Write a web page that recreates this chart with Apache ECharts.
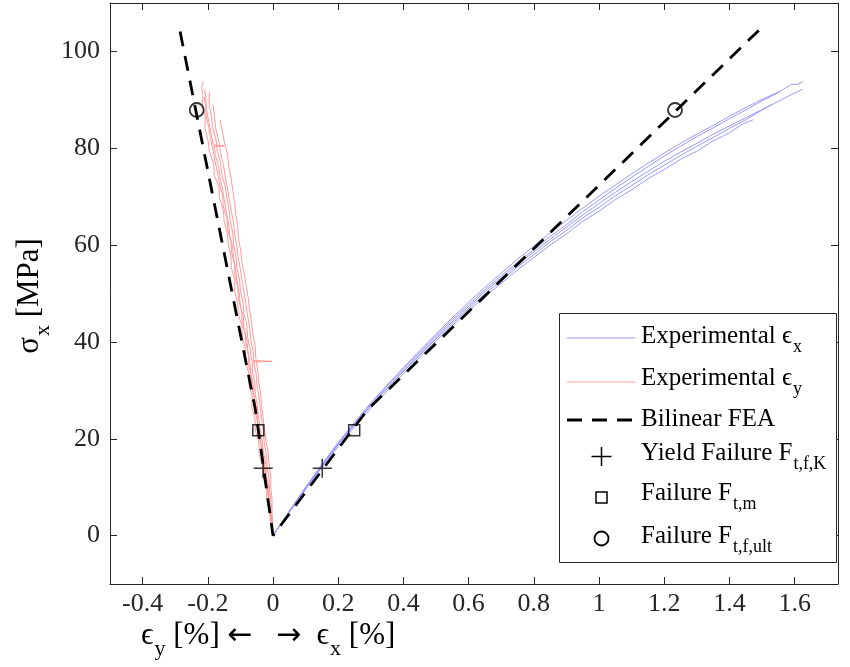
<!DOCTYPE html>
<html>
<head>
<meta charset="utf-8">
<script src="https://cdn.jsdelivr.net/npm/echarts@6/dist/echarts.min.js"></script>
<style>
  html, body { margin: 0; padding: 0; background: #ffffff; }
  #chart { width: 850px; height: 667px; }
</style>
</head>
<body>
<div id="chart"></div>
<script>
// Axis ticks
const strainTicks = [-0.4, -0.2, 0, 0.2, 0.4, 0.6, 0.8, 1, 1.2, 1.4, 1.6];
const stressTicks = [0, 20, 40, 60, 80, 100];

// Experimental axial strain curves, [strain %, stress MPa]
const expX1 = [[0,0],[0.05,5.0],[0.10,9.9],[0.15,14.6],[0.20,19.1],[0.25,23.3],[0.30,27.2],[0.35,30.9],[0.40,34.4],[0.45,37.9],[0.50,41.3],[0.55,44.6],[0.60,47.7],[0.65,50.8],[0.70,53.6],[0.75,56.5],[0.80,59.0],[0.85,61.8],[0.90,64.2],[0.95,66.9],[1.00,69.3],[1.05,71.7],[1.10,74.0],[1.15,76.2],[1.20,78.4],[1.25,80.4],[1.30,82.4],[1.35,84.2],[1.40,86.1],[1.45,87.9],[1.50,89.8],[1.55,91.5],[1.59,93.2],[1.61,93.2],[1.625,93.8]];
const expX2 = [[0,0],[0.05,4.9],[0.10,9.7],[0.15,14.4],[0.20,18.8],[0.25,22.9],[0.30,26.8],[0.35,30.5],[0.40,34.0],[0.45,37.5],[0.50,40.9],[0.55,44.2],[0.60,47.3],[0.65,50.4],[0.70,53.2],[0.75,56.0],[0.80,58.6],[0.85,61.2],[0.90,63.7],[0.95,66.2],[1.00,68.6],[1.05,70.9],[1.10,73.1],[1.15,75.2],[1.20,77.3],[1.25,79.2],[1.30,81.0],[1.35,82.9],[1.40,84.6],[1.45,86.3],[1.50,88.0],[1.55,89.7],[1.60,91.4],[1.625,92.2]];
const expX3 = [[0,0],[0.05,5.1],[0.10,10.0],[0.15,14.7],[0.20,19.2],[0.25,23.4],[0.30,27.4],[0.35,31.1],[0.40,34.7],[0.45,38.2],[0.50,41.6],[0.55,45.0],[0.60,48.2],[0.65,51.3],[0.70,54.2],[0.75,57.1],[0.80,59.8],[0.85,62.5],[0.90,65.1],[0.95,67.6],[1.00,70.1],[1.05,72.4],[1.10,74.7],[1.15,76.9],[1.20,79.0],[1.25,81.0],[1.30,82.9],[1.35,84.7],[1.40,86.6],[1.45,88.4],[1.50,90.1],[1.53,91.0],[1.555,91.7]];
const expX4 = [[0,0],[0.05,4.8],[0.10,9.5],[0.15,14.1],[0.20,18.4],[0.25,22.5],[0.30,26.3],[0.35,29.9],[0.40,33.4],[0.45,36.9],[0.50,40.2],[0.55,43.4],[0.60,46.4],[0.65,49.4],[0.70,52.1],[0.75,54.9],[0.80,57.4],[0.85,60.0],[0.90,62.3],[0.95,64.9],[1.00,67.0],[1.05,69.4],[1.10,71.4],[1.15,73.7],[1.20,75.6],[1.25,77.7],[1.30,79.4],[1.35,81.5],[1.40,83.2],[1.44,85.0],[1.473,85.9]];
const expX5 = [[0,0],[0.05,5.0],[0.10,9.8],[0.15,14.4],[0.20,18.9],[0.25,23.0],[0.30,26.9],[0.35,30.4],[0.40,33.9],[0.45,37.3],[0.50,40.6],[0.55,43.8],[0.60,46.9],[0.65,49.9],[0.70,52.7],[0.75,55.5],[0.80,58.0],[0.85,60.7],[0.90,63.0],[0.95,65.6],[1.00,67.8],[1.05,70.2],[1.10,72.3],[1.15,74.5],[1.20,76.5],[1.25,78.5],[1.30,80.4],[1.35,82.2],[1.40,84.1],[1.45,85.9],[1.50,87.9],[1.53,89.0]];

// Experimental transverse strain curves (plotted as negative strain)
const expY1 = [[0,0],[-0.007,2.4],[-0.010,4.9],[-0.019,7.3],[-0.020,9.6],[-0.031,12.1],[-0.033,14.5],[-0.042,16.8],[-0.044,19.3],[-0.054,21.7],[-0.055,24.0],[-0.065,26.5],[-0.064,28.9],[-0.074,31.2],[-0.075,33.7],[-0.084,36.1],[-0.084,38.4],[-0.094,40.9],[-0.095,43.3],[-0.106,45.6],[-0.108,48.1],[-0.118,50.5],[-0.117,52.8],[-0.128,55.3],[-0.129,57.7],[-0.137,60.0],[-0.140,62.5],[-0.150,64.9],[-0.152,67.2],[-0.164,69.7],[-0.166,72.1],[-0.180,74.4],[-0.182,76.9],[-0.195,79.3],[-0.199,81.6],[-0.209,84.1],[-0.208,86.5],[-0.217,88.8],[-0.215,91.1],[-0.219,92.6],[-0.214,93.8]];
const expY2 = [[0,0],[-0.004,2.1],[-0.009,4.6],[-0.011,6.9],[-0.017,9.3],[-0.020,11.8],[-0.027,14.1],[-0.029,16.5],[-0.037,18.9],[-0.040,21.3],[-0.048,23.7],[-0.049,26.0],[-0.058,28.5],[-0.060,30.8],[-0.067,33.2],[-0.071,35.7],[-0.077,38.0],[-0.080,40.4],[-0.089,42.8],[-0.091,45.2],[-0.101,47.6],[-0.103,50.0],[-0.110,52.3],[-0.114,54.8],[-0.121,57.1],[-0.124,59.6],[-0.132,61.9],[-0.136,64.4],[-0.143,66.7],[-0.149,69.1],[-0.155,71.6],[-0.162,73.9],[-0.168,76.4],[-0.177,78.7],[-0.181,80.4],[-0.150,80.5],[-0.183,80.7],[-0.190,83.1],[-0.197,85.5],[-0.204,87.9],[-0.206,90.2],[-0.209,92.2]];
const expY3 = [[0,0],[-0.006,2.6],[-0.006,5.0],[-0.013,7.5],[-0.013,9.8],[-0.020,12.3],[-0.022,14.7],[-0.029,17.1],[-0.033,19.5],[-0.039,21.9],[-0.044,24.3],[-0.048,26.7],[-0.054,29.1],[-0.056,31.5],[-0.063,33.9],[-0.064,35.8],[-0.003,36.0],[-0.066,36.2],[-0.070,38.6],[-0.078,41.0],[-0.080,43.4],[-0.089,45.8],[-0.092,48.2],[-0.100,50.6],[-0.103,53.0],[-0.111,55.4],[-0.114,57.8],[-0.121,60.2],[-0.124,62.6],[-0.131,65.0],[-0.135,67.4],[-0.142,69.8],[-0.147,72.2],[-0.157,74.6],[-0.161,77.0],[-0.171,79.4],[-0.175,81.8],[-0.185,84.2],[-0.189,86.6],[-0.196,89.0],[-0.195,91.7]];
const expY4 = [[0,0],[-0.002,2.3],[-0.006,4.7],[-0.006,7.1],[-0.011,9.4],[-0.012,11.9],[-0.018,14.2],[-0.020,16.7],[-0.027,19.0],[-0.029,21.4],[-0.035,23.9],[-0.039,26.2],[-0.043,28.6],[-0.049,31.1],[-0.052,33.4],[-0.059,35.9],[-0.061,38.2],[-0.068,40.6],[-0.072,43.0],[-0.078,45.5],[-0.083,47.8],[-0.089,50.2],[-0.095,52.7],[-0.100,55.0],[-0.107,57.4],[-0.111,59.9],[-0.118,62.2],[-0.121,64.7],[-0.128,67.0],[-0.134,69.4],[-0.140,71.8],[-0.147,74.3],[-0.152,76.6],[-0.161,79.1],[-0.166,81.4],[-0.175,83.8],[-0.179,86.3],[-0.184,89.0]];
const expY5 = [[0,0],[-0.001,2.5],[-0.003,5.0],[-0.003,7.4],[-0.007,9.9],[-0.007,12.3],[-0.012,14.8],[-0.015,17.2],[-0.022,19.7],[-0.026,22.1],[-0.031,24.6],[-0.035,27.0],[-0.038,29.5],[-0.044,31.9],[-0.047,34.4],[-0.053,36.8],[-0.055,39.3],[-0.062,41.7],[-0.066,44.2],[-0.072,46.6],[-0.076,49.1],[-0.082,51.5],[-0.088,54.0],[-0.095,56.4],[-0.099,58.9],[-0.106,61.3],[-0.108,63.8],[-0.114,66.2],[-0.117,68.7],[-0.123,71.1],[-0.128,73.6],[-0.135,76.0],[-0.139,78.5],[-0.148,80.9],[-0.155,83.4],[-0.163,85.9]];
const expY6 = [[0,0],[-0.005,2.2],[-0.007,4.4],[-0.014,6.8],[-0.015,9.1],[-0.023,11.5],[-0.025,13.8],[-0.033,16.2],[-0.036,18.5],[-0.045,20.9],[-0.046,23.2],[-0.055,25.6],[-0.056,27.9],[-0.064,30.3],[-0.066,32.6],[-0.074,35.0],[-0.075,37.3],[-0.083,39.7],[-0.086,42.0],[-0.095,44.4],[-0.097,46.7],[-0.106,49.1],[-0.108,51.4],[-0.117,53.8],[-0.118,56.1],[-0.127,58.5],[-0.129,60.8],[-0.139,63.2],[-0.141,65.5],[-0.152,67.9],[-0.155,70.2],[-0.164,72.6],[-0.170,74.9],[-0.178,77.3],[-0.184,79.6],[-0.192,82.0],[-0.197,84.3],[-0.205,86.7],[-0.206,88.9],[-0.211,90.5]];

// Bilinear FEA response (transverse branch, origin, axial branch)
const feaCurve = [[-0.285,104.1],[-0.054,26.0],[0,0],[0.29,26.0],[1.50,105.0]];

// Failure points
const yieldPts = [[-0.030,13.9],[0.151,13.9]];
const matrixPts = [[-0.045,21.75],[0.249,21.75]];
const ultPts = [[-0.234,87.9],[1.233,87.9]];

const expXSets = [expX1, expX2, expX3, expX4, expX5];
const expYSets = [expY1, expY2, expY3, expY4, expY5, expY6];

const FONT = "'Liberation Serif', 'Times New Roman', 'DejaVu Serif', serif";
const ARROW_FONT = "'DejaVu Sans', sans-serif";
const AXIS = '#262626';
const BLUE = '#9999ff';
const PINK = '#ff9a9a';
const DASH = [15, 10];

const chart = echarts.init(document.getElementById('chart'), null, { renderer: 'canvas' });

const fmt = v => String(Math.round(v * 10) / 10);

const series = [];
expXSets.forEach(d => series.push({
  type: 'line', data: d, symbol: 'none', silent: true, z: 2,
  lineStyle: { color: BLUE, width: 1 }
}));
expYSets.forEach(d => series.push({
  type: 'line', data: d, symbol: 'none', silent: true, z: 2,
  lineStyle: { color: PINK, width: 1 }
}));
series.push({
  type: 'line', data: feaCurve, symbol: 'none', silent: true, z: 3,
  lineStyle: { color: '#000', width: 2.8, type: DASH, cap: 'butt' }
});
series.push({
  type: 'scatter', data: yieldPts, z: 4, silent: true,
  symbol: 'path://M5,0L5,10M0,5L10,5', symbolSize: 19,
  itemStyle: { color: 'rgba(0,0,0,0)', borderColor: '#000', borderWidth: 1.5 }
});
series.push({
  type: 'scatter', data: matrixPts, z: 4, silent: true,
  symbol: 'rect', symbolSize: 11,
  itemStyle: { color: 'rgba(0,0,0,0)', borderColor: '#000', borderWidth: 1.5 }
});
series.push({
  type: 'scatter', data: ultPts, z: 4, silent: true,
  symbol: 'circle', symbolSize: 14,
  itemStyle: { color: 'rgba(0,0,0,0)', borderColor: '#000', borderWidth: 1.8 }
});

const tickLabel = { fontFamily: FONT, fontSize: 26, color: AXIS };

const xBase = {
  type: 'value', min: -0.5, max: 1.733,
  splitLine: { show: false },
  axisLine: { show: true, onZero: false, lineStyle: { color: AXIS, width: 1 } },
  axisTick: { show: true, inside: true, length: 7, customValues: strainTicks, lineStyle: { color: AXIS, width: 1 } }
};
const yBase = {
  type: 'value', min: -10, max: 110,
  splitLine: { show: false },
  axisLine: { show: true, onZero: false, lineStyle: { color: AXIS, width: 1 } },
  axisTick: { show: true, inside: true, length: 7, customValues: stressTicks, lineStyle: { color: AXIS, width: 1 } }
};

// Legend box and rows
const LX = 559, LY = 313, LW = 277, LH = 249;
const textX = 641;
const symX = 601.5;
const LZ = 100;
const legendRich = {
  m: { fontFamily: FONT, fontSize: 25, color: '#000' },
  s: { fontFamily: FONT, fontSize: 18, color: '#000', padding: [22, 0, 0, 1] }
};
function legendText(y, str) {
  return {
    type: 'text', x: textX, y: y, silent: true, z: LZ + 1,
    style: { text: str, rich: legendRich, align: 'left', verticalAlign: 'middle' }
  };
}
function seg(x1, y1, x2, y2, style) {
  return { type: 'line', silent: true, z: LZ + 1, shape: { x1, y1, x2, y2 }, style: style };
}

const titleRich = {
  m: { fontFamily: FONT, fontSize: 31, color: AXIS },
  s: { fontFamily: FONT, fontSize: 22, color: AXIS, padding: [26, 0, 0, 1] },
  a: { fontFamily: ARROW_FONT, fontSize: 30, color: AXIS }
};

const graphic = [
  { type: 'rect', silent: true, z: LZ, shape: { x: LX + 0.5, y: LY + 0.5, width: LW, height: LH }, style: { fill: '#fff', stroke: AXIS, lineWidth: 1 } },
  seg(567, 338, 635, 338, { stroke: BLUE, lineWidth: 1 }),
  legendText(336, '{m|Experimental ϵ}{s|x}'),
  seg(567, 382, 635, 382, { stroke: PINK, lineWidth: 1 }),
  legendText(378, '{m|Experimental ϵ}{s|y}'),
  seg(567, 420, 635, 420, { stroke: '#000', lineWidth: 2.8, lineDash: DASH }),
  legendText(419, '{m|Bilinear FEA}'),
  seg(symX - 10, 456.5, symX + 10, 456.5, { stroke: '#000', lineWidth: 1.5 }),
  seg(symX, 447, symX, 466, { stroke: '#000', lineWidth: 1.5 }),
  legendText(453, '{m|Yield Failure F}{s|t,f,K}'),
  { type: 'rect', silent: true, z: LZ + 1, shape: { x: symX - 5.5, y: 492, width: 11, height: 11 }, style: { fill: 'none', stroke: '#000', lineWidth: 1.5 } },
  legendText(493, '{m|Failure F}{s|t,m}'),
  { type: 'circle', silent: true, z: LZ + 1, shape: { cx: symX, cy: 538.5, r: 7 }, style: { fill: 'none', stroke: '#000', lineWidth: 1.8 } },
  legendText(536, '{m|Failure F}{s|t,f,ult}'),
  // axis titles
  {
    type: 'text', x: 141, y: 636, silent: true,
    style: { text: '{m|ϵ}{s|y}{m| [%] }{a|←}{m|   }{a|→}{m|  ϵ}{s|x}{m| [%]}', rich: titleRich, align: 'left', verticalAlign: 'middle' }
  },
  {
    type: 'text', x: 30, y: 296, rotation: Math.PI / 2, silent: true,
    style: { text: '{m|σ}{s|x}{m| [MPa]}', rich: titleRich, align: 'center', verticalAlign: 'middle' }
  }
];

const option = {
  animation: false,
  backgroundColor: '#ffffff',
  grid: { left: 110, right: 12, top: 3, bottom: 83, containLabel: false, outerBoundsMode: 'none' },
  xAxis: [
    Object.assign({}, xBase, { position: 'bottom',
      axisLabel: Object.assign({ show: true, margin: 7, customValues: strainTicks, formatter: fmt }, tickLabel) }),
    Object.assign({}, xBase, { position: 'top', axisLabel: { show: false } })
  ],
  yAxis: [
    Object.assign({}, yBase, { position: 'left',
      axisLabel: Object.assign({ show: true, margin: 10, customValues: stressTicks, formatter: fmt }, tickLabel) }),
    Object.assign({}, yBase, { position: 'right', axisLabel: { show: false } })
  ],
  series: series,
  graphic: graphic
};

chart.setOption(option);
</script>
</body>
</html>
